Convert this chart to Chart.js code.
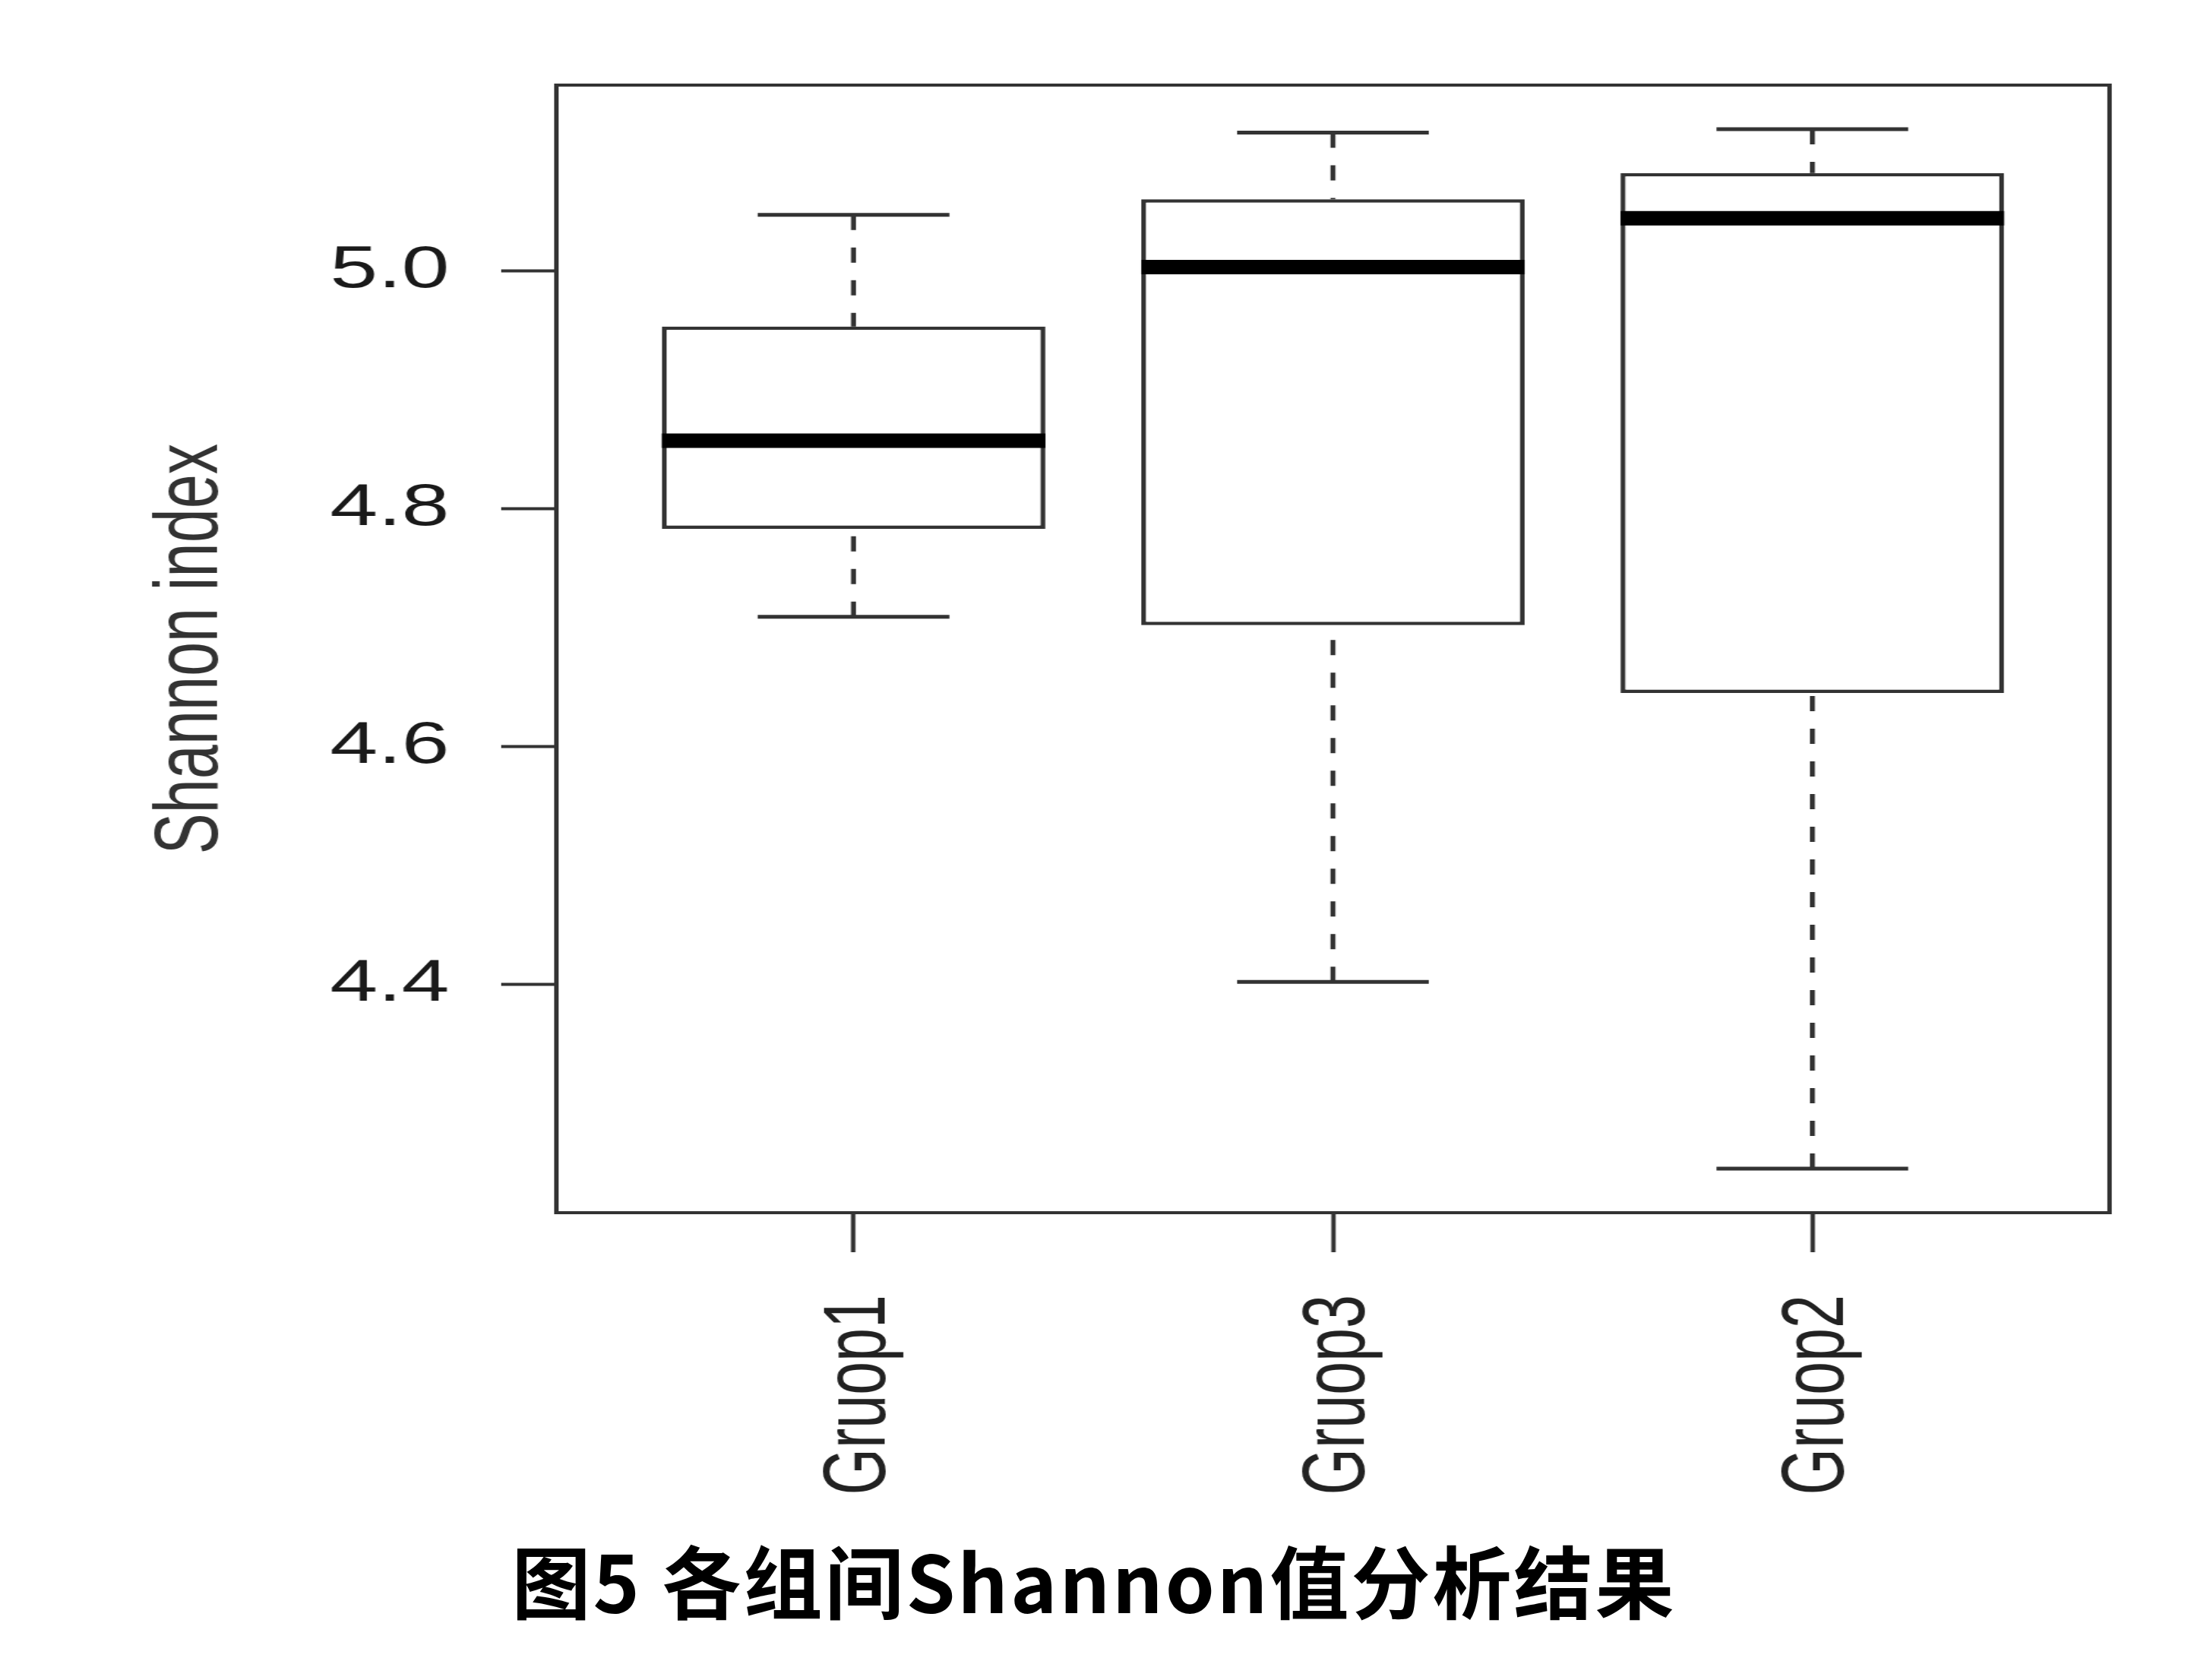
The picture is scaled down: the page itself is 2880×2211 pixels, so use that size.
<!DOCTYPE html>
<html>
<head>
<meta charset="utf-8">
<script src="https://cdn.jsdelivr.net/npm/chart.js@4.4.1/dist/chart.umd.min.js"></script>
<style>
  html, body { margin: 0; padding: 0; background: #fff; }
  #page { position: relative; width: 2880px; height: 2211px; overflow: hidden; }
  #stretch { position: absolute; left: 0; top: 0; width: 1986px; height: 2211px; transform: scaleX(1.45); transform-origin: 0 0; }
  #caption {
    position: absolute; left: 0; width: 2880px; top: 2013px; text-align: center;
    font-family: "Noto Sans CJK SC", sans-serif; font-weight: 700; font-size: 104px;
    letter-spacing: 3px; line-height: 130px; color: #000;
  }
</style>
</head>
<body>
<div id="page">
  <div id="stretch">
    <canvas id="box" width="1986" height="2211" style="width:1986px;height:2211px"></canvas>
  </div>
  <div id="caption">图5 各组间Shannon值分析结果</div>
</div>
<script>
// values (Shannon index)
const groups = ['Gruop1', 'Gruop3', 'Gruop2'];
const positions = [1, 2, 3];
const whiskerLow = [4.709, 4.402, 4.245];
const q1 = [4.783, 4.702, 4.645];
const median = [4.857, 5.003, 5.044];
const q3 = [4.953, 5.060, 5.082];
const whiskerHigh = [5.047, 5.116, 5.119];
const yTicks = [4.4, 4.6, 4.8, 5.0];
const yRange = [4.208, 5.156];
const xRange = [0.38, 3.62];

const ink = '#333333';

// width in px of a span given in x units
function unitPx(c, u) {
  const xs = c.chart.scales.x;
  return Math.abs(xs.getPixelForValue(u) - xs.getPixelForValue(0));
}

const whiskerPts = [];
positions.forEach((p, i) => {
  whiskerPts.push({ x: p, y: whiskerHigh[i] }, { x: p, y: q3[i] }, { x: p, y: null });
  whiskerPts.push({ x: p, y: whiskerLow[i] }, { x: p, y: q1[i] }, { x: p, y: null });
});

const capPts = [];
positions.forEach((p, i) => {
  capPts.push({ x: p, y: whiskerHigh[i] }, { x: p, y: whiskerLow[i] });
});

const frame = {
  id: 'frame',
  afterDraw(chart) {
    const { ctx, chartArea: a } = chart;
    ctx.save();
    ctx.strokeStyle = ink;
    ctx.lineWidth = 4;
    ctx.strokeRect(a.left, a.top, a.right - a.left, a.bottom - a.top);
    ctx.restore();
  },
};

new Chart(document.getElementById('box'), {
  type: 'bar',
  data: {
    datasets: [
      {
        type: 'scatter',
        label: 'median',
        data: positions.map((p, i) => ({ x: p, y: median[i] })),
        pointStyle: 'line',
        pointRadius: (c) => unitPx(c, 0.4),
        pointHoverRadius: (c) => unitPx(c, 0.4),
        pointBorderWidth: 19,
        pointBorderColor: '#000',
        order: 0,
      },
      {
        type: 'scatter',
        label: 'caps',
        data: capPts,
        pointStyle: 'line',
        pointRadius: (c) => unitPx(c, 0.2),
        pointHoverRadius: (c) => unitPx(c, 0.2),
        pointBorderWidth: 5,
        pointBorderColor: ink,
        order: 1,
      },
      {
        type: 'line',
        label: 'whiskers',
        data: whiskerPts,
        borderColor: ink,
        borderWidth: 4.5,
        borderDash: [20, 23],
        pointRadius: 0,
        tension: 0,
        spanGaps: false,
        order: 2,
      },
      {
        type: 'bar',
        label: 'box',
        data: positions.map((p, i) => ({ x: p, y: [q1[i], q3[i]] })),
        backgroundColor: '#ffffff',
        borderColor: ink,
        borderWidth: 4.5,
        borderSkipped: false,
        categoryPercentage: 1,
        barPercentage: 0.8,
        order: 3,
      },
    ],
  },
  options: {
    responsive: false,
    animation: false,
    devicePixelRatio: 1,
    layout: { padding: { top: 112, right: 71, bottom: 0, left: 0 } },
    plugins: { legend: { display: false }, tooltip: { enabled: false } },
    scales: {
      x: {
        type: 'linear',
        offset: false,
        min: xRange[0],
        max: xRange[1],
        border: { display: false },
        grid: { offset: false, drawOnChartArea: false, drawTicks: true, tickLength: 52, tickColor: ink, tickWidth: 4 },
        afterBuildTicks: (s) => { s.ticks = positions.map((v) => ({ value: v })); },
        afterFit: (s) => { s.height = 2211 - 1596; },
        ticks: {
          autoSkip: false,
          minRotation: 90,
          maxRotation: 90,
          padding: 56,
          labelOffset: 6,
          color: '#222',
          font: { family: 'Liberation Sans', size: 79 },
          callback: (v, i) => groups[i],
        },
      },
      y: {
        type: 'linear',
        min: yRange[0],
        max: yRange[1],
        border: { display: false },
        grid: { drawOnChartArea: false, drawTicks: true, tickLength: 50, tickColor: ink, tickWidth: 4 },
        afterBuildTicks: (s) => { s.ticks = yTicks.map((v) => ({ value: v })); },
        afterFit: (s) => { s.width = 505; },
        ticks: {
          padding: 47,
          color: '#1a1a1a',
          font: { family: 'Liberation Sans', size: 78 },
          callback: (v) => v.toFixed(1),
        },
        title: {
          display: true,
          text: 'Shannon index',
          color: '#333',
          padding: { top: 126, bottom: 0 },
          font: { family: 'Liberation Sans', size: 81 },
        },
      },
    },
  },
  plugins: [frame],
});
</script>
</body>
</html>
